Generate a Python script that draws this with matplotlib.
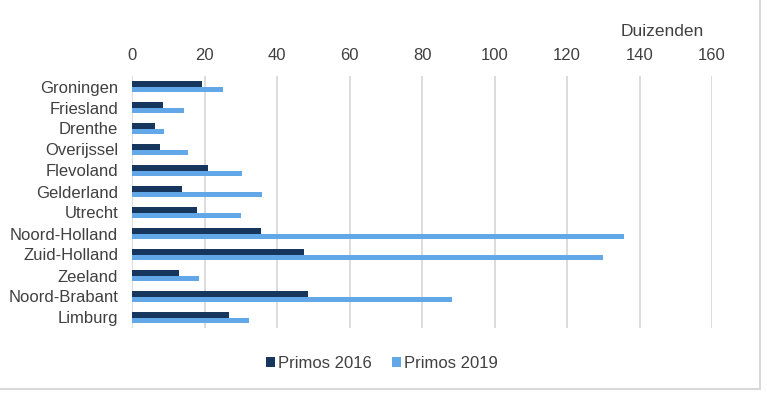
import matplotlib.pyplot as plt
import numpy as np

plt.rcParams['font.family'] = ['Liberation Sans', 'DejaVu Sans']

provinces = ['Groningen', 'Friesland', 'Drenthe', 'Overijssel', 'Flevoland', 'Gelderland',
             'Utrecht', 'Noord-Holland', 'Zuid-Holland', 'Zeeland', 'Noord-Brabant', 'Limburg']
primos_2016 = [19.3, 8.5, 6.4, 7.8, 20.9, 13.8, 17.8, 35.6, 47.5, 13.0, 48.6, 26.8]
primos_2019 = [25.0, 14.3, 8.9, 15.5, 30.3, 35.9, 30.2, 135.6, 129.8, 18.4, 88.3, 32.3]
ticks = [0, 20, 40, 60, 80, 100, 120, 140, 160]

text_col = '#404040'
dark = '#17365d'
light = '#62a8e8'

fig = plt.figure(figsize=(7.67, 4.0), dpi=100)
ax = fig.add_axes([132 / 767, 1 - 328 / 400, (712 - 132) / 767, (328 - 76) / 400])

y = np.arange(len(provinces))
h = 0.28
ax.barh(y - h / 2, primos_2016, height=h, color=dark, label='Primos 2016', zorder=3)
ax.barh(y + h / 2, primos_2019, height=h, color=light, label='Primos 2019', zorder=3)

ax.set_ylim(len(provinces) - 0.5, -0.5)
ax.set_xlim(0, 160)
ax.set_yticks(y)
ax.set_yticklabels(provinces)
ax.set_xticks(ticks)
ax.xaxis.tick_top()
ax.tick_params(axis='both', length=0, labelsize=12, colors=text_col)
ax.tick_params(axis='x', pad=9)
ax.tick_params(axis='y', pad=10)
ax.grid(axis='x', color='#d9d9d9', linewidth=1.3, zorder=0)
for s in ax.spines.values():
    s.set_visible(False)

fig.text(662 / 767, 1 - 31 / 400, 'Duizenden', ha='center', va='center', fontsize=12.5, color=text_col)

fig.legend(loc='center', bbox_to_anchor=(382 / 767, 1 - 363 / 400), ncol=2, frameon=False,
           fontsize=12, labelcolor=text_col, handlelength=0.55, handleheight=0.55,
           handletextpad=0.2, columnspacing=1.2)

# frame lines (right and bottom) of the chart box
fig.add_artist(plt.Line2D([0, 760 / 767], [1 - 389 / 400] * 2, color='#d9d9d9', lw=1.5))
fig.add_artist(plt.Line2D([760 / 767] * 2, [1 - 389 / 400, 1], color='#d9d9d9', lw=1.5))

fig.savefig('out.png', dpi=100)
